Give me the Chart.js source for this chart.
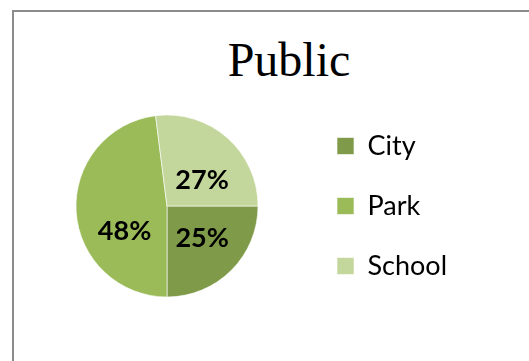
<!DOCTYPE html>
<html>
<head>
<meta charset="utf-8">
<script src="https://cdn.jsdelivr.net/npm/chart.js@4"></script>
<style>
  html, body { margin: 0; padding: 0; background: #fff; overflow: hidden; }
  body { width: 529px; height: 361px; position: relative; }
  /* outer chart frame, only the left and top edges fall inside the page */
  .frame {
    position: absolute; left: 12px; top: 10px; width: 600px; height: 400px;
    border-left: 2px solid #8c8c8c; border-top: 2px solid #8c8c8c;
  }
  .title {
    position: absolute; left: 189px; top: 36px; width: 200px;
    text-align: center; font: 48px/1 "Liberation Serif", serif; color: #000;
  }
  #wrap { position: absolute; left: 0; top: 0; width: 529px; height: 361px; }
</style>
</head>
<body>
<div class="frame"></div>
<div class="title">Public</div>
<div id="wrap"><canvas id="pie"></canvas></div>
<script>
const categories = ['City', 'Park', 'School'];
const shares = [25, 48, 27];
const colors = ['#7f9a48', '#9bbb59', '#c3d69b'];

const legendFont = { family: 'Lato', size: 27 };
const legendPad = 33;
const boxSize = 17;

// the legend box width depends on the longest label, so measure it first
const mctx = document.createElement('canvas').getContext('2d');
mctx.font = legendFont.size + 'px ' + legendFont.family;
const textW = Math.max(...categories.map(c => mctx.measureText(c).width));
const legendW = legendPad + boxSize + legendFont.size / 2 + textW + 10;
const legendLeft = 304;

// percent labels inside the slices
const sliceLabels = {
    id: 'sliceLabels',
    afterDatasetsDraw(chart, args, opts) {
        const ctx = chart.ctx;
        const meta = chart.getDatasetMeta(0);
        ctx.save();
        ctx.font = 'bold 27px Lato';
        ctx.fillStyle = '#000';
        ctx.textAlign = 'center';
        ctx.textBaseline = 'middle';
        meta.data.forEach((arc, i) => {
            const p = arc.getProps(['x', 'y', 'startAngle', 'endAngle', 'outerRadius'], true);
            const mid = (p.startAngle + p.endAngle) / 2;
            const r = p.outerRadius * 0.5;
            const n = opts.nudge[i] || [0, 0];
            ctx.fillText(shares[i] + '%', p.x + Math.cos(mid) * r + n[0], p.y + Math.sin(mid) * r + n[1]);
        });
        ctx.restore();
    }
};

new Chart(document.getElementById('pie'), {
    type: 'pie',
    data: {
        labels: categories,
        datasets: [{
            data: shares,
            backgroundColor: colors,
            borderColor: 'rgba(255,255,255,0.6)',
            borderWidth: 1
        }]
    },
    options: {
        responsive: true,
        maintainAspectRatio: false,
        animation: false,
        rotation: 90,
        radius: 91,
        layout: {
            padding: { left: 30, right: 529 - legendLeft - legendW, top: 96, bottom: 45 }
        },
        plugins: {
            tooltip: { enabled: false },
            legend: {
                position: 'right',
                labels: {
                    font: legendFont,
                    color: '#000',
                    boxWidth: boxSize,
                    boxHeight: boxSize,
                    padding: legendPad
                }
            },
            sliceLabels: { nudge: [[3, 0], [3, 22], [5, 8]] }
        }
    },
    plugins: [sliceLabels]
});
</script>
</body>
</html>
